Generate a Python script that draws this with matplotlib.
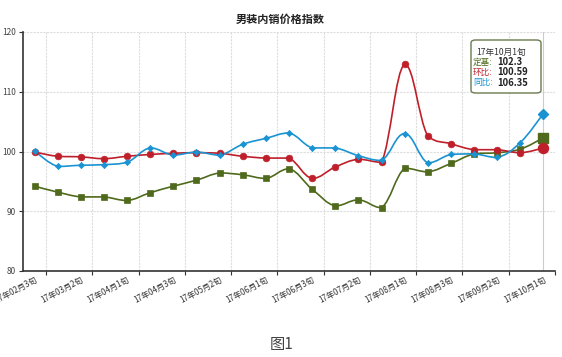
import matplotlib
matplotlib.use("Agg")
import matplotlib.pyplot as plt
from matplotlib.path import Path
from matplotlib.patches import PathPatch, FancyBboxPatch
from matplotlib.transforms import ScaledTranslation
import numpy as np

plt.rcParams['font.family'] = ['Noto Sans CJK SC', 'DejaVu Sans']

# 数据
periods = ['17年02月3旬', '17年03月1旬', '17年03月2旬', '17年03月3旬', '17年04月1旬',
           '17年04月2旬', '17年04月3旬', '17年05月1旬', '17年05月2旬', '17年05月3旬',
           '17年06月1旬', '17年06月2旬', '17年06月3旬', '17年07月1旬', '17年07月2旬',
           '17年07月3旬', '17年08月1旬', '17年08月2旬', '17年08月3旬', '17年09月1旬',
           '17年09月2旬', '17年09月3旬', '17年10月1旬']
dingji = [94.2, 93.2, 92.4, 92.4, 91.8, 93.1, 94.2, 95.2, 96.4, 96.1, 95.5, 97.1,
          93.7, 90.9, 91.9, 90.6, 97.2, 96.6, 98.0, 99.6, 99.8, 100.4, 102.3]
huanbi = [99.9, 99.2, 99.1, 98.8, 99.2, 99.5, 99.7, 99.8, 99.7, 99.2, 98.9, 98.9,
          95.5, 97.4, 98.7, 98.2, 114.6, 102.6, 101.3, 100.3, 100.3, 99.8, 100.59]
tongbi = [100.05, 97.5, 97.7, 97.8, 98.2, 100.6, 99.4, 99.9, 99.4, 101.2, 102.2, 103.1,
          100.6, 100.6, 99.3, 98.5, 103.0, 98.1, 99.5, 99.6, 99.0, 101.5, 106.35]

c_green = '#4f6a1c'
c_red = '#bf1f2a'
c_blue = '#1a93d3'


def smooth_path(xs, ys, s=0.2):
	# 三次贝塞尔平滑曲线, 控制点限制在相邻两点之间, 不过冲
	n = len(xs)
	verts = [(xs[0], ys[0])]
	codes = [Path.MOVETO]
	for i in range(n - 1):
		a = max(i - 1, 0)
		b = min(i + 2, n - 1)
		lo = min(ys[i], ys[i + 1])
		hi = max(ys[i], ys[i + 1])
		c1y = np.clip(ys[i] + (ys[i + 1] - ys[a]) * s, lo, hi)
		c2y = np.clip(ys[i + 1] - (ys[b] - ys[i]) * s, lo, hi)
		c1 = (xs[i] + (xs[i + 1] - xs[a]) * s, c1y)
		c2 = (xs[i + 1] - (xs[b] - xs[i]) * s, c2y)
		verts += [c1, c2, (xs[i + 1], ys[i + 1])]
		codes += [Path.CURVE4] * 3
	return Path(verts, codes)


fig = plt.figure(figsize=(5.62, 3.57), dpi=100)
ax = fig.add_axes([23 / 562, 86 / 357, 532 / 562, 239 / 357])

x = np.arange(len(periods))

# 网格
for gx in np.arange(0.5, len(periods), 2):
	ax.axvline(gx, color='#dddddd', lw=0.8, ls=(0, (2, 1)), zorder=0)
for gy in [90, 100, 110, 120]:
	ax.axhline(gy, color='#dddddd', lw=0.8, ls=(0, (2, 1)), zorder=0)

# 提示线
ax.axvline(x[-1], color='#cccccc', lw=0.8, zorder=1)

series = [(dingji, c_green, 's', 4.6, 7.0),
          (huanbi, c_red, 'o', 4.8, 7.2),
          (tongbi, c_blue, 'D', 3.2, 5.0)]
for vals, col, mk, ms, ms_last in series:
	ax.add_patch(PathPatch(smooth_path(x, vals), fill=False, edgecolor=col, lw=1.2, zorder=3))
	ax.plot(x[:-1], vals[:-1], ls='none', marker=mk, ms=ms, color=col,
	        markeredgecolor=col, markeredgewidth=0.5, zorder=4)
	ax.plot(x[-1:], vals[-1:], ls='none', marker=mk, ms=ms_last, color=col,
	        markeredgecolor=col, zorder=5)

ax.set_xlim(-0.5, len(periods) - 0.5)
ax.set_ylim(80, 120)
ax.set_yticks([80, 90, 100, 110, 120])
ax.set_yticklabels(['80', '90', '100', '110', '120'], fontsize=6, color='#444444')

ax.set_xticks(np.arange(0.5, len(periods), 2))
ax.set_xticklabels([])
ax.set_xticks(x[::2], minor=True)
labs = ax.set_xticklabels(periods[::2], minor=True, rotation=28, ha='right',
                          rotation_mode='anchor', fontsize=5.8, color='#333333')
shift = ScaledTranslation(6 / 100, 2 / 100, fig.dpi_scale_trans)
for t in labs:
	t.set_transform(t.get_transform() + shift)
ax.tick_params(axis='x', which='minor', length=0, pad=3)
ax.tick_params(axis='both', which='major', length=3, width=0.8, color='#333333', pad=2)

for sp in ['top', 'right']:
	ax.spines[sp].set_visible(False)
ax.spines['left'].set_color('#333333')
ax.spines['bottom'].set_color('#333333')
ax.spines['left'].set_linewidth(1.2)
ax.spines['bottom'].set_linewidth(1.2)

fig.text(280 / 562, 1 - 19 / 357, '男装内销价格指数', ha='center', va='center',
         fontsize=8, fontweight='bold', color='#222222')
fig.text(282 / 562, 1 - 344 / 357, '图1', ha='center', va='center',
         fontsize=11, color='#444444')

# 提示框
box = FancyBboxPatch((471 / 562, 1 - 93 / 357), 70 / 562, 53 / 357,
                     boxstyle='round,pad=0,rounding_size=0.008',
                     transform=fig.transFigure, facecolor='white',
                     edgecolor='#6b7a4e', lw=1.0, zorder=10)
fig.patches.append(box)
fig.text(476 / 562, 1 - 52 / 357, '17年10月1旬', fontsize=6.2, color='#333333',
         va='center', zorder=11)
rows = [('定基:', '102.3', c_green, 62), ('环比:', '100.59', c_red, 72),
        ('同比:', '106.35', c_blue, 82.5)]
for lab, val, col, py in rows:
	fig.text(473 / 562, 1 - py / 357, lab, fontsize=6.2, color=col, va='center', zorder=11)
	fig.text(497 / 562, 1 - py / 357, val, fontsize=6.8, color='#222222',
	         fontweight='bold', va='center', zorder=11)

fig.savefig('out.png', dpi=100)
